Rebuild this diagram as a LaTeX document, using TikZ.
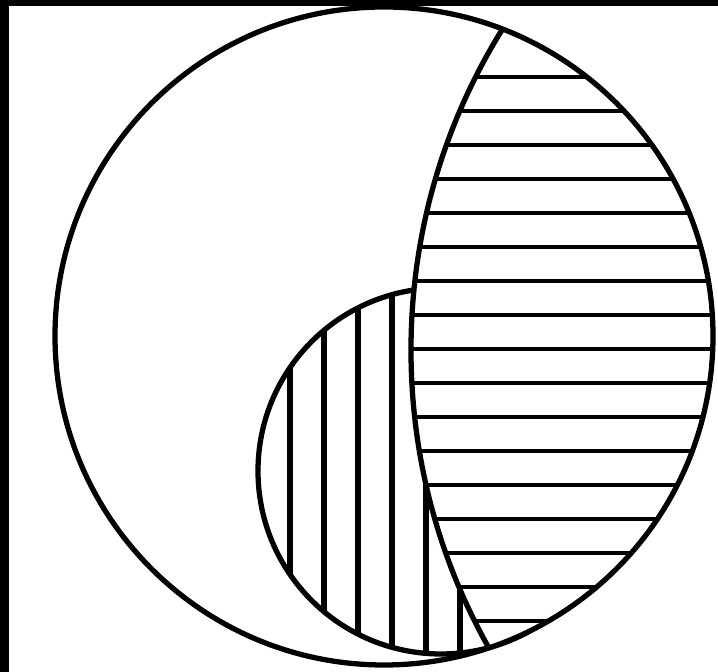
\documentclass[tikz,border=0pt]{standalone}
\usetikzlibrary{backgrounds}
\definecolor{scanblack}{RGB}{0,0,0}

\tikzset{
  outline/.style={draw=black,line width=3pt},
  hhatch/.style={draw=black,line width=2.7pt},
  vhatch/.style={draw=black,line width=3.3pt}
}

\begin{document}
\begin{tikzpicture}[x=0.02cm,y=0.02cm]
    \useasboundingbox (0,0) rectangle (718,672);
    \fill[white] (0,0) rectangle (718,672);

    \coordinate (ca) at (384,336);
    \coordinate (cb) at (1019,322);
    \coordinate (cc) at (441,201);

    \begin{scope}
      \clip (cc) circle (183);
      \foreach \x in {290,324,...,460}
        \draw[vhatch] (\x,0) -- (\x,672);
    \end{scope}
    \draw[outline] (cc) circle (183);

    \begin{scope}
      \clip (ca) circle (329);
      \fill[white] (cb) circle (608);
      \clip (cb) circle (608);
      \foreach \y in {51,85,...,595}
        \draw[hhatch] (0,\y) -- (718,\y);
    \end{scope}
    \begin{scope}
      \clip (ca) circle (329);
      \draw[outline] (cb) circle (608);
    \end{scope}

    \draw[outline] (ca) circle (329);

    \fill[scanblack] (0,0) rectangle (9,672);
    \fill[scanblack] (0,666) rectangle (718,672);
  \end{tikzpicture}
\end{document}
